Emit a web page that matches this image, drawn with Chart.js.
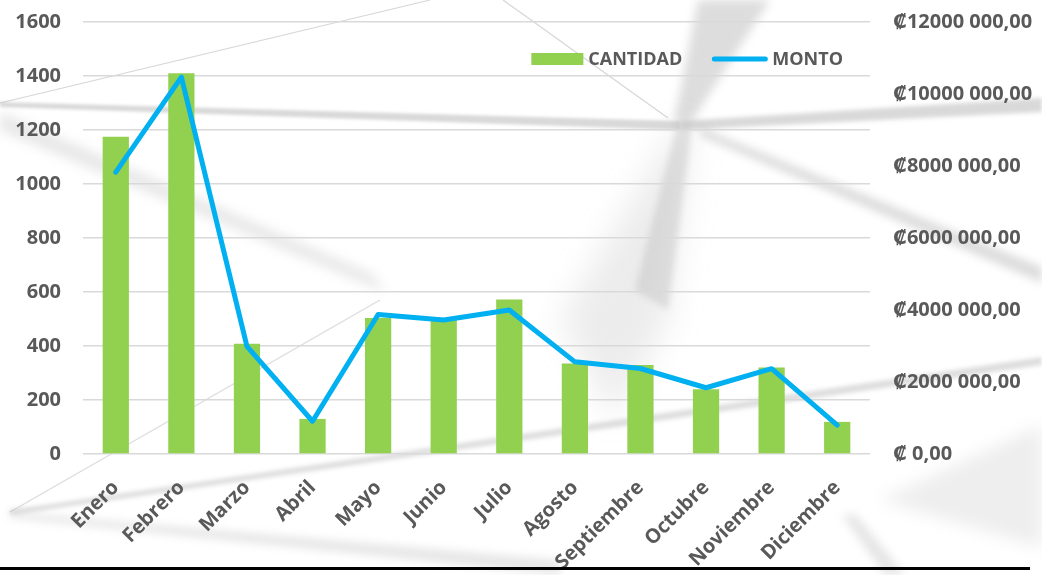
<!DOCTYPE html>
<html>
<head>
<meta charset="utf-8">
<script src="https://cdn.jsdelivr.net/npm/chart.js@4/dist/chart.umd.min.js"></script>
<style>
  html, body { margin: 0; padding: 0; background: #ffffff; }
  #wrap { position: relative; width: 1042px; height: 575px; }
</style>
</head>
<body>
<div id="wrap"><canvas id="c" width="1042" height="575"></canvas></div>
<script>
// ---- data ----
const categories = ['Enero', 'Febrero', 'Marzo', 'Abril', 'Mayo', 'Junio', 'Julio', 'Agosto', 'Septiembre', 'Octubre', 'Noviembre', 'Diciembre'];
const cantidad = [1175, 1410, 408, 130, 504, 496, 572, 335, 330, 240, 320, 119];
const monto = [7830000, 10470000, 2990000, 910000, 3875000, 3720000, 4000000, 2560000, 2375000, 1840000, 2370000, 800000];
const seriesNames = ['CANTIDAD', 'MONTO'];
const leftAxis = { min: 0, max: 1600, step: 200 };
const rightAxis = { min: 0, max: 12000000, step: 2000000 };

// ---- styles ----
const TEXT = '#595959';
const GREEN = '#92D050';
const BLUE = '#00B0F0';
const FONT = "'Open Sans', 'DejaVu Sans', sans-serif";

function colones(v) {
  if (v === 0) return '\u20A1 0,00';
  const th = Math.floor(v / 1000);
  const rest = String(v % 1000).padStart(3, '0');
  return '\u20A1' + th + ' ' + rest + ',00';
}

// background decoration (grey geometric image behind the chart)
const backgroundPlugin = {
  id: 'bgDeco',
  beforeDraw(chart) {
    const ctx = chart.ctx;
    ctx.save();
    ctx.fillStyle = '#ffffff';
    ctx.fillRect(0, 0, chart.width, chart.height);
    const poly = (pts, color, blur) => {
      ctx.filter = blur ? 'blur(' + blur + 'px)' : 'none';
      ctx.fillStyle = color;
      ctx.beginPath();
      ctx.moveTo(pts[0][0], pts[0][1]);
      for (let i = 1; i < pts.length; i++) ctx.lineTo(pts[i][0], pts[i][1]);
      ctx.closePath();
      ctx.fill();
    };
    const line = (a, b, w, color, blur) => {
      ctx.filter = blur ? 'blur(' + blur + 'px)' : 'none';
      ctx.strokeStyle = color;
      ctx.lineWidth = w;
      ctx.beginPath();
      ctx.moveTo(a[0], a[1]);
      ctx.lineTo(b[0], b[1]);
      ctx.stroke();
    };
    // big lower wedge of the X
    poly([[676,128],[692,128],[668,320],[615,420],[560,320]], 'rgba(170,170,170,0.22)', 16);
    poly([[676,128],[692,128],[668,310],[635,290]], 'rgba(170,170,170,0.30)', 3);
    // upper part of the X
    poly([[698,0],[770,0],[690,124],[674,122]], 'rgba(170,170,170,0.40)', 5);
    // thin lines
    line([0,103],[430,0], 1.2, 'rgba(180,180,180,0.55)', 0.5);
    line([503,0],[668,118], 1.2, 'rgba(180,180,180,0.55)', 0.5);
    line([10,512],[380,300], 1.2, 'rgba(185,185,185,0.5)', 0.5);
    // horizontal-ish bands
    poly([[0,102],[680,121],[680,130],[0,107]], 'rgba(170,170,170,0.45)', 1.5);
    poly([[680,121],[1042,98],[1042,112],[680,130]], 'rgba(170,170,170,0.45)', 2);
    // right diagonal band
    poly([[700,127],[1042,267],[1042,283],[700,136]], 'rgba(170,170,170,0.40)', 4);
    // left diagonal band
    poly([[0,112],[0,130],[385,292],[372,274]], 'rgba(170,170,170,0.28)', 6);
    // long lower band
    poly([[10,510],[1042,357],[1042,365],[10,515]], 'rgba(170,170,170,0.40)', 2);
    // bottom band going down-right
    poly([[10,512],[560,560],[560,575],[10,518]], 'rgba(175,175,175,0.30)', 4);
    // bottom-right light wedge
    poly([[880,500],[1042,425],[1042,548]], 'rgba(200,200,200,0.30)', 8);
    poly([[842,515],[856,515],[905,575],[885,575]], 'rgba(170,170,170,0.30)', 5);
    ctx.filter = 'none';
    ctx.restore();
  },
  afterDraw(chart) {
    const ctx = chart.ctx;
    const area = chart.chartArea;
    ctx.save();
    // bottom rule
    ctx.fillStyle = '#000000';
    ctx.fillRect(0, 567, 1030, 3);
    // legend (inside plot area, upper right)
    ctx.font = "bold 18px " + FONT;
    ctx.textBaseline = 'middle';
    ctx.fillStyle = TEXT;
    const y = area.top + 37;
    const w1 = ctx.measureText(seriesNames[0]).width;
    const w2 = ctx.measureText(seriesNames[1]).width;
    const total = 52 + 5 + w1 + 30 + 55 + 5 + w2;
    let x = area.right - 27 - total;
    ctx.fillStyle = GREEN;
    ctx.fillRect(x, y - 6, 52, 12);
    x += 57;
    ctx.fillStyle = TEXT;
    ctx.fillText(seriesNames[0], x, y + 1);
    x += w1 + 30;
    ctx.strokeStyle = BLUE;
    ctx.lineWidth = 5;
    ctx.lineCap = 'round';
    ctx.beginPath();
    ctx.moveTo(x + 2, y);
    ctx.lineTo(x + 53, y);
    ctx.stroke();
    x += 60;
    ctx.fillText(seriesNames[1], x, y + 1);
    ctx.restore();
  }
};

new Chart(document.getElementById('c'), {
  data: {
    labels: categories,
    datasets: [
      {
        type: 'line',
        label: seriesNames[1],
        data: monto,
        yAxisID: 'y1',
        borderColor: BLUE,
        backgroundColor: BLUE,
        borderWidth: 5,
        pointRadius: 0,
        pointHoverRadius: 0,
        tension: 0,
        borderJoinStyle: 'round',
        borderCapStyle: 'round',
        order: 0
      },
      {
        type: 'bar',
        label: seriesNames[0],
        data: cantidad,
        yAxisID: 'y',
        backgroundColor: GREEN,
        borderWidth: 0,
        barPercentage: 0.4,
        categoryPercentage: 1.0,
        order: 1
      }
    ]
  },
  options: {
    responsive: false,
    animation: false,
    devicePixelRatio: 1,
    layout: { padding: { top: 22, left: 0, right: 0, bottom: 0 } },
    plugins: {
      legend: { display: false },
      tooltip: { enabled: false },
      title: { display: false }
    },
    scales: {
      x: {
        type: 'category',
        offset: true,
        grid: { display: false, drawTicks: false },
        border: { display: false },
        ticks: {
          color: TEXT,
          font: { family: FONT, size: 20, weight: 'bold' },
          maxRotation: 45,
          minRotation: 45,
          padding: 22,
          autoSkip: false
        },
        afterFit(scale) { scale.height = 121; scale.paddingLeft = 0; scale.paddingRight = 0; }
      },
      y: {
        position: 'left',
        min: leftAxis.min,
        max: leftAxis.max,
        grid: { color: '#D9D9D9', lineWidth: 1.5, drawTicks: false },
        border: { display: false },
        ticks: {
          stepSize: leftAxis.step,
          color: TEXT,
          font: { family: FONT, size: 20, weight: 'bold' },
          padding: 22,
          callback: (v) => String(v)
        },
        afterFit(scale) { scale.width = 83; scale.paddingTop = 0; scale.paddingBottom = 0; }
      },
      y1: {
        position: 'right',
        min: rightAxis.min,
        max: rightAxis.max,
        grid: { display: false, drawTicks: false },
        border: { display: false },
        ticks: {
          stepSize: rightAxis.step,
          color: TEXT,
          font: { family: FONT, size: 20, weight: 'bold' },
          padding: 23,
          callback: (v) => colones(v)
        },
        afterFit(scale) { scale.width = 172; scale.paddingTop = 0; scale.paddingBottom = 0; }
      }
    }
  },
  plugins: [backgroundPlugin]
});
</script>
</body>
</html>
